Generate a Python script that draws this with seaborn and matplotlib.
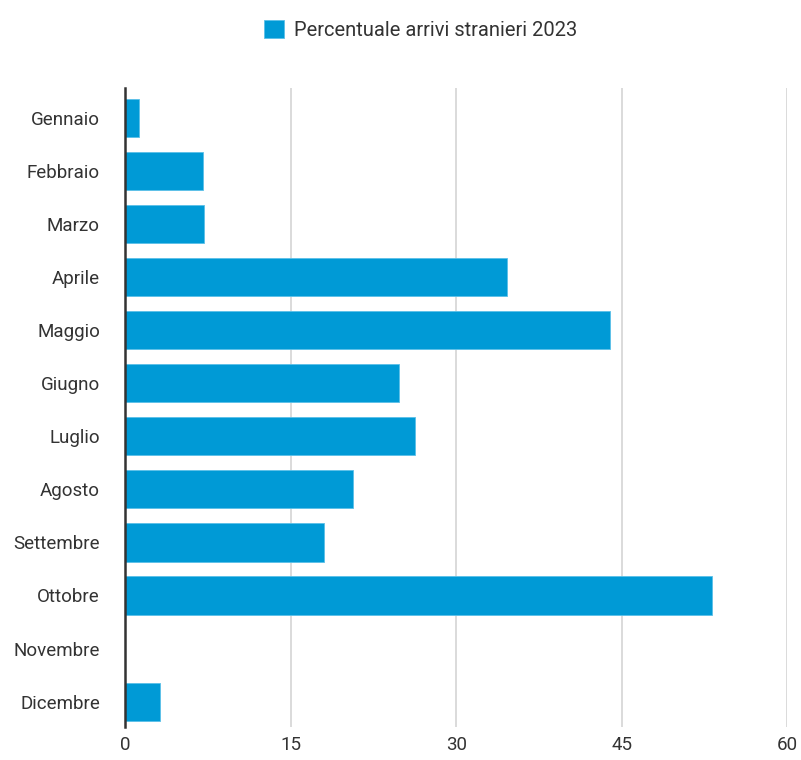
import matplotlib
matplotlib.use("Agg")
import matplotlib.pyplot as plt
import seaborn as sns
import pandas as pd

months = ["Gennaio", "Febbraio", "Marzo", "Aprile", "Maggio", "Giugno",
          "Luglio", "Agosto", "Settembre", "Ottobre", "Novembre", "Dicembre"]
percent = [1.3, 7.1, 7.2, 34.6, 43.9, 24.8, 26.3, 20.7, 18.0, 53.2, 0.0, 3.2]
x_ticks = [0, 15, 30, 45, 60]
series_label = "Percentuale arrivi stranieri 2023"

sns.set_theme(style="white")
plt.rcParams["font.family"] = ["Roboto", "DejaVu Sans"]

df = pd.DataFrame({"Mese": months, "Percentuale": percent})

fig = plt.figure(figsize=(8.01, 7.60), dpi=100)
ax = fig.add_axes([0.156, 0.044, 0.827, 0.840])

sns.barplot(
    data=df,
    x="Percentuale",
    y="Mese",
    order=months,
    color="#009AD6",
    saturation=1,
    width=0.72,
    edgecolor="#5bc0e8",
    linewidth=0.6,
    label=series_label,
    ax=ax,
)

ax.set_xlim(0, 60)
ax.set_ylim(11.47, -0.56)
ax.set_xticks(x_ticks)
ax.set_xticklabels([str(t) for t in x_ticks])
ax.set_xlabel("")
ax.set_ylabel("")
ax.grid(axis="x", color="#d4d4d4", linewidth=1.2)
ax.set_axisbelow(True)
for side in ["top", "right", "bottom"]:
    ax.spines[side].set_visible(False)
ax.spines["left"].set_color("#333333")
ax.spines["left"].set_linewidth(1.8)
ax.spines["left"].set_zorder(5)
ax.tick_params(axis="both", length=0, labelsize=13.5, labelcolor="#333333")
ax.tick_params(axis="y", pad=18)
ax.tick_params(axis="x", pad=7)

if ax.legend_:
    ax.legend_.remove()
handles, labels = ax.get_legend_handles_labels()
fig.legend(
    handles[:1], labels[:1],
    loc="upper center",
    bbox_to_anchor=(0.525, 0.997),
    frameon=False,
    fontsize=14.5,
    handlelength=1.0,
    handleheight=1.0,
    handletextpad=0.5,
    labelcolor="#333333",
)

fig.savefig("out.png", dpi=100)
